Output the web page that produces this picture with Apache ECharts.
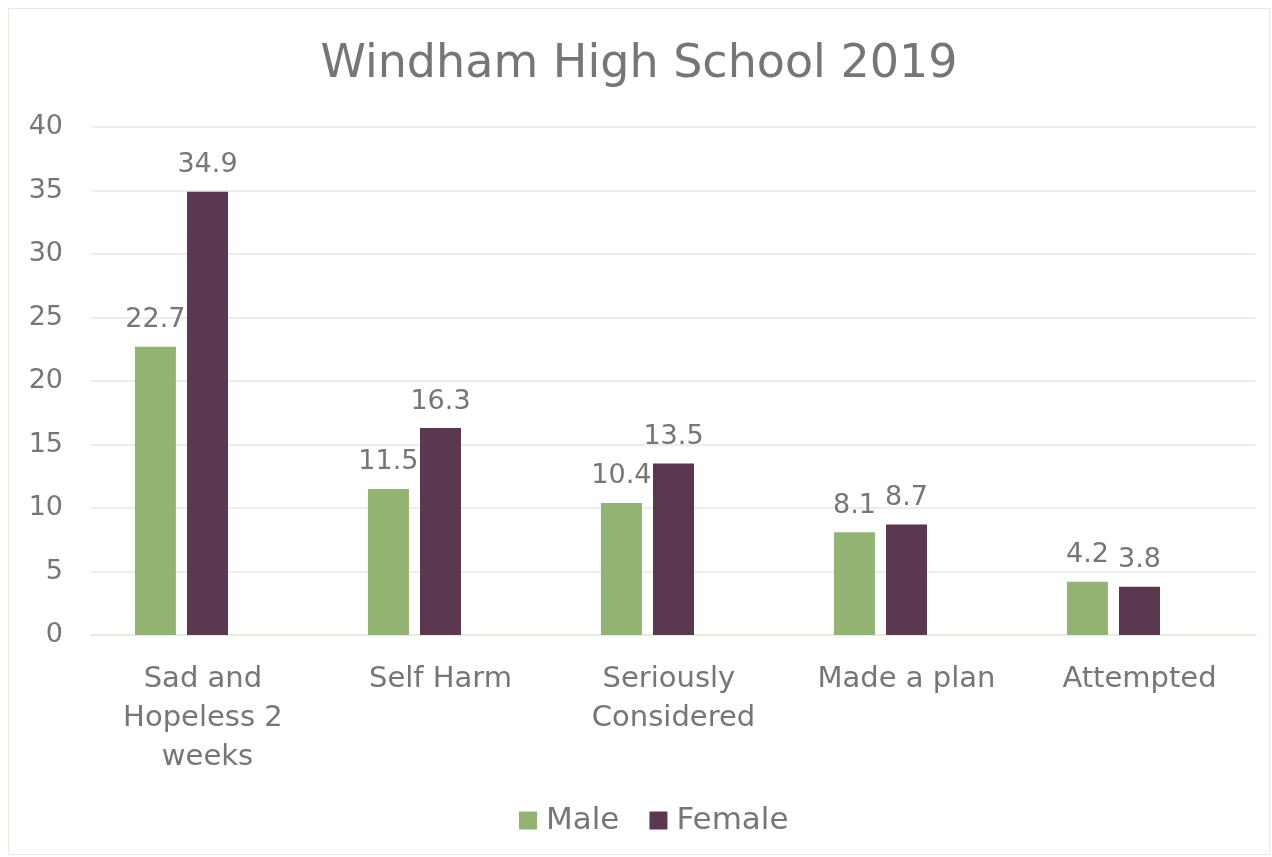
<!DOCTYPE html>
<html>
<head>
<meta charset="utf-8">
<script src="https://cdn.jsdelivr.net/npm/echarts@6/dist/echarts.min.js"></script>
<style>
  html, body { margin: 0; padding: 0; background: #fff; }
  #chart { position: absolute; left: 8px; top: 8px; width: 1262px; height: 847px; border: 1px solid #e6ebe0; box-sizing: border-box; }
</style>
</head>
<body>
<div id="chart"></div>
<script>
const categories = ['Sad and Hopeless 2 weeks', 'Self Harm', 'Seriously Considered', 'Made a plan', 'Attempted'];
const maleValues = [22.7, 11.5, 10.4, 8.1, 4.2];
const femaleValues = [34.9, 16.3, 13.5, 8.7, 3.8];
const legendNames = ['Male', 'Female'];

const textColor = '#767676';
const fontFamily = '"DejaVu Sans", sans-serif';

const chart = echarts.init(document.getElementById('chart'));
const labelStyle = {
  show: true,
  position: 'top',
  color: textColor,
  fontSize: 27,
  fontFamily: fontFamily,
  distance: 13
};
chart.setOption({
  animation: false,
  title: {
    text: 'Windham High School 2019',
    left: 'center',
    top: 28,
    textStyle: { color: textColor, fontSize: 46, fontWeight: 'normal', fontFamily: fontFamily }
  },
  legend: {
    data: legendNames,
    top: 791,
    left: 505,
    itemWidth: 18,
    itemHeight: 18,
    itemGap: 30,
    icon: 'rect',
    textStyle: { color: textColor, fontSize: 31, fontFamily: fontFamily, padding: [0, 0, 0, 4] }
  },
  grid: { left: 82, right: 13, top: 118, bottom: 219, containLabel: false },
  xAxis: {
    type: 'category',
    data: categories,
    axisLine: { show: true, lineStyle: { color: '#e3ebda', width: 1.5 } },
    axisTick: { show: false },
    axisLabel: {
      color: textColor,
      fontSize: 29,
      fontFamily: fontFamily,
      margin: 25,
      lineHeight: 39,
      width: 200,
      overflow: 'break',
      interval: 0
    }
  },
  yAxis: {
    type: 'value',
    min: 0,
    max: 40,
    interval: 5,
    axisLine: { show: false },
    axisTick: { show: false },
    splitLine: { lineStyle: { color: '#e3ebda', width: 1.5 } },
    axisLabel: { color: textColor, fontSize: 27, fontFamily: fontFamily, margin: 28 }
  },
  series: [
    {
      name: 'Male',
      type: 'bar',
      data: maleValues,
      barWidth: 41,
      barGap: '27%',
      itemStyle: { color: '#93b373' },
      label: labelStyle
    },
    {
      name: 'Female',
      type: 'bar',
      data: femaleValues,
      barWidth: 41,
      itemStyle: { color: '#5b3750' },
      label: labelStyle
    },
    {
      // empty third series slot, as in the source chart
      name: 'blank',
      type: 'bar',
      data: [],
      barWidth: 41,
      itemStyle: { color: '#8d6e97' }
    }
  ]
});
</script>
</body>
</html>
